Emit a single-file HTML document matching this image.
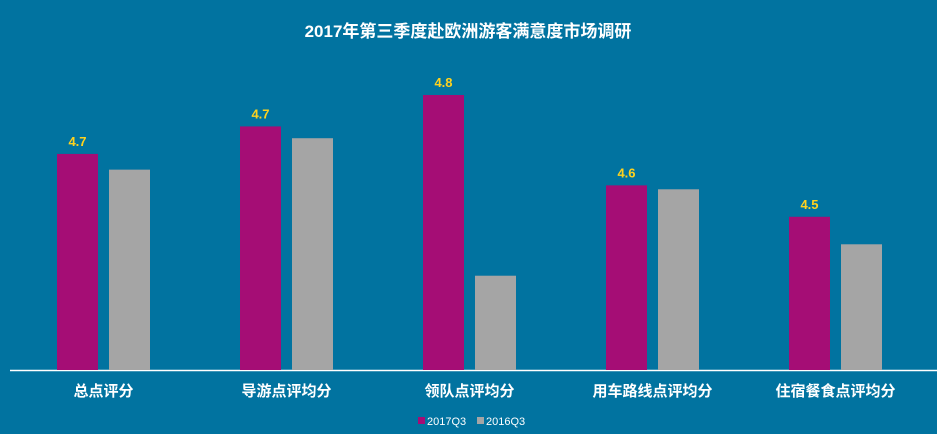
<!DOCTYPE html>
<html><head><meta charset="utf-8"><style>
html,body{margin:0;padding:0;background:#0173A0;}
svg{display:block;font-family:"Liberation Sans","Noto Sans CJK SC",sans-serif;}
</style></head><body>
<svg id="c" width="937" height="434">
<rect width="937" height="434" fill="#0173A0"/>
<text x="468" y="37" text-anchor="middle" fill="#fff" font-size="17" font-weight="bold">2017年第三季度赴欧洲游客满意度市场调研</text>
<line x1="10" y1="370.5" x2="937" y2="370.5" stroke="#fff" stroke-width="1.5"/>
<g id="bars"></g>
<g>
<rect x="418" y="417" width="7" height="7" fill="#A50D75"/>
<text x="427" y="425" fill="#fff" font-size="11">2017Q3</text>
<rect x="477" y="417" width="7" height="7" fill="#A5A5A5"/>
<text x="486" y="425" fill="#fff" font-size="11">2016Q3</text>
</g>
</svg>
<script>
const categories=["总点评分","导游点评均分","领队点评均分","用车路线点评均分","住宿餐食点评均分"];
const series2017=[4.65,4.72,4.80,4.57,4.49];
const series2016=[4.61,4.69,4.34,4.56,4.42];
const yMin=4.1, yMax=4.8;
const baseY=370, topY=95, x0=57, groupW=183, barW=41, gap=11;
function y(v){return baseY-(v-yMin)/(yMax-yMin)*(baseY-topY);}
const g=document.getElementById('bars');
const ns="http://www.w3.org/2000/svg";
categories.forEach((c,i)=>{
  const gx=x0+i*groupW;
  const r1=document.createElementNS(ns,'rect');
  r1.setAttribute('x',gx);r1.setAttribute('y',y(series2017[i]));
  r1.setAttribute('width',barW);r1.setAttribute('height',baseY-y(series2017[i]));
  r1.setAttribute('fill','#A50D75');
  
  
  g.appendChild(r1);
  const r2=document.createElementNS(ns,'rect');
  r2.setAttribute('x',gx+barW+gap);r2.setAttribute('y',y(series2016[i]));
  r2.setAttribute('width',barW);r2.setAttribute('height',baseY-y(series2016[i]));
  r2.setAttribute('fill','#A5A5A5');
  
  
  g.appendChild(r2);
  const t=document.createElementNS(ns,'text');
  t.setAttribute('x',gx+barW/2);t.setAttribute('y',y(series2017[i])-8);
  t.setAttribute('text-anchor','middle');t.setAttribute('fill','#FFD21E');
  t.setAttribute('font-size','13');t.setAttribute('font-weight','bold');
  t.textContent=series2017[i].toFixed(1);
  
  
  g.appendChild(t);
  const l=document.createElementNS(ns,'text');
  l.setAttribute('x',gx+barW+gap/2);l.setAttribute('y',396);
  l.setAttribute('text-anchor','middle');l.setAttribute('fill','#fff');
  l.setAttribute('font-size','15');l.setAttribute('font-weight','bold');
  l.textContent=c;
  
  
  g.appendChild(l);
});
</script>
</body></html>
